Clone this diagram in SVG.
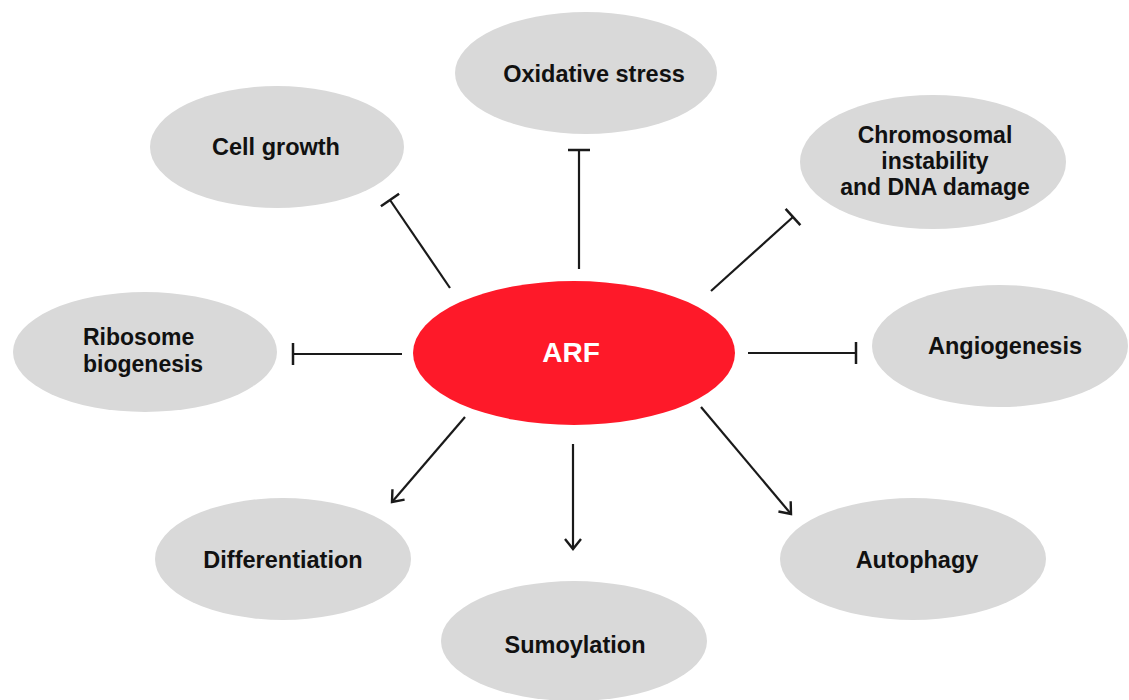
<svg xmlns="http://www.w3.org/2000/svg" width="1129" height="700" viewBox="0 0 1129 700">
<style>
.node{fill:#d9d9d9}
.lbl{font-family:"Liberation Sans",Arial,sans-serif;font-weight:bold;font-size:23.5px;fill:#111;text-anchor:middle}
.edge{stroke:#1a1a1a;stroke-width:2.2;fill:none}
</style>
<defs>
<marker id="bar" markerWidth="4" markerHeight="24" refX="2" refY="12" orient="auto" markerUnits="userSpaceOnUse">
<line x1="2" y1="1" x2="2" y2="23" stroke="#1a1a1a" stroke-width="2.5"/>
</marker>
<marker id="arr" markerWidth="16" markerHeight="20" refX="13" refY="10" orient="auto" markerUnits="userSpaceOnUse">
<polyline points="3,2 13,10 3,18" fill="none" stroke="#1a1a1a" stroke-width="2.4"/>
</marker>
</defs>
<rect width="1129" height="700" fill="#fff"/>
<g id="connectors">
<line class="edge" x1="579" y1="269" x2="579" y2="150" marker-end="url(#bar)"/>
<line class="edge" x1="450" y1="288" x2="390" y2="200" marker-end="url(#bar)"/>
<line class="edge" x1="711" y1="291" x2="793" y2="217" marker-end="url(#bar)"/>
<line class="edge" x1="402" y1="354" x2="293" y2="354" marker-end="url(#bar)"/>
<line class="edge" x1="748" y1="353" x2="856" y2="353" marker-end="url(#bar)"/>
<line class="edge" x1="465" y1="417" x2="392" y2="502" marker-end="url(#arr)"/>
<line class="edge" x1="573" y1="444" x2="573" y2="549" marker-end="url(#arr)"/>
<line class="edge" x1="701" y1="407" x2="791" y2="514" marker-end="url(#arr)"/>
</g>
<g id="oxidative-stress"><ellipse class="node" cx="586" cy="73" rx="131" ry="61"/><text class="lbl" x="594" y="82">Oxidative stress</text></g>
<g id="cell-growth"><ellipse class="node" cx="277" cy="147" rx="127" ry="61"/><text class="lbl" x="276" y="155">Cell growth</text></g>
<g id="chromosomal"><ellipse class="node" cx="933" cy="162" rx="133" ry="67"/><text class="lbl" x="935" y="143" style="font-size:23px">Chromosomal</text><text class="lbl" x="935" y="169" style="font-size:23px">instability</text><text class="lbl" x="935" y="195" style="font-size:23px">and DNA damage</text></g>
<g id="ribosome"><ellipse class="node" cx="145" cy="352" rx="132" ry="60"/><text class="lbl" x="83" y="345" style="text-anchor:start;font-size:23px">Ribosome</text><text class="lbl" x="83" y="372" style="text-anchor:start;font-size:23px">biogenesis</text></g>
<g id="arf"><ellipse cx="574" cy="353" rx="161" ry="72" fill="#fe1929"/><text class="lbl" x="571" y="362" style="fill:#fff;font-size:28px">ARF</text></g>
<g id="angiogenesis"><ellipse class="node" cx="1000" cy="346" rx="128" ry="61"/><text class="lbl" x="1005" y="354">Angiogenesis</text></g>
<g id="differentiation"><ellipse class="node" cx="283" cy="559" rx="128" ry="61"/><text class="lbl" x="283" y="568">Differentiation</text></g>
<g id="sumoylation"><ellipse class="node" cx="574" cy="641" rx="133" ry="60"/><text class="lbl" x="575" y="653">Sumoylation</text></g>
<g id="autophagy"><ellipse class="node" cx="913" cy="559" rx="133" ry="61"/><text class="lbl" x="917" y="568">Autophagy</text></g>
</svg>
